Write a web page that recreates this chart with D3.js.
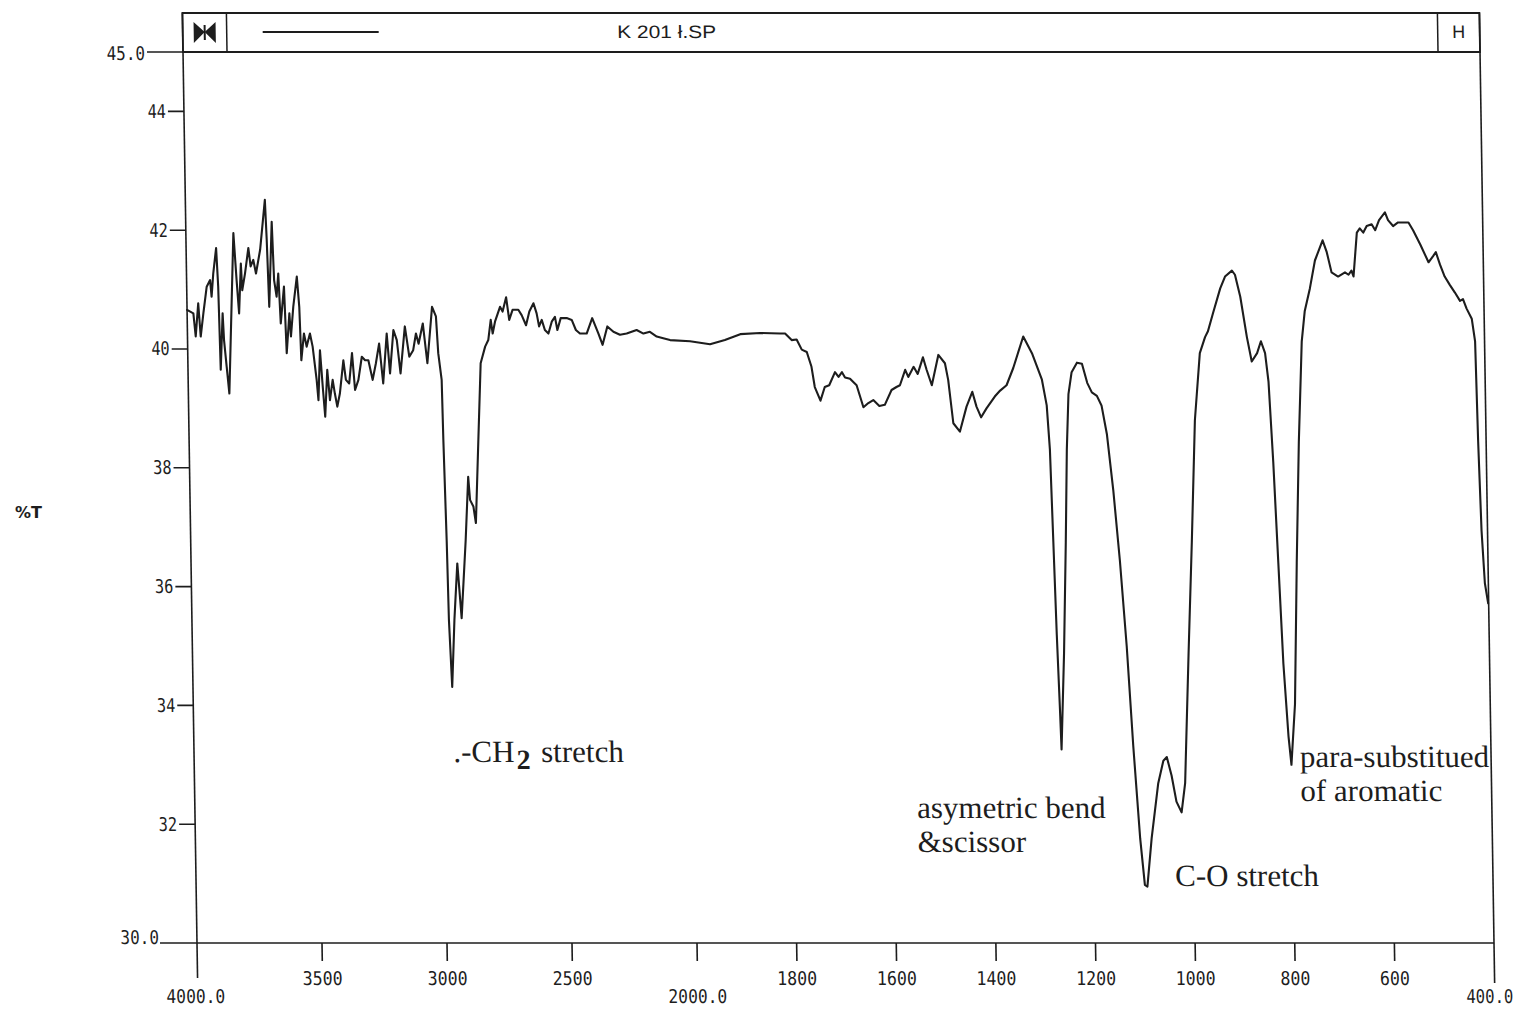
<!DOCTYPE html>
<html>
<head>
<meta charset="utf-8">
<script src="https://cdn.jsdelivr.net/npm/d3@7"></script>
<style>
  html, body { margin: 0; padding: 0; background: #ffffff; }
  svg { display: block; }
</style>
</head>
<body>
<svg id="chart" width="1524" height="1012"></svg>
<script>
// ---------------- data (wavenumber cm-1, %T) ----------------
const wavenumbers = [
  4000,3975,3967,3955,3947,3935,3920,3906,3901,3893,3880,3874,3869,3858,3854,3845,3836,3810,3800,3792,
  3782,3778,3766,3751,3743,3732,3722,3704,3682,3677,3671,3656,3650,3641,3633,3626,3611,3604,3591,3586,
  3575,3559,3551,3546,3534,3524,3510,3500,3486,3480,3471,3462,3454,3443,3434,3422,3414,3405,3394,3378,
  3369,3356,3343,3333,3319,3304,3291,3278,3262,3248,3234,3220,3203,3192,3176,3163,3150,3130,3114,3098,
  3086,3076,3058,3042,3020,3005,2998,2986,2983,2976,2972,2963,2950,2935,2921,2900,2886,2880,2867,2858,
  2843,2829,2810,2797,2786,2779,2769,2748,2738,2723,2712,2698,2675,2662,2645,2631,2614,2602,2593,2582,
  2570,2556,2542,2529,2520,2506,2482,2462,2446,2430,2403,2380,2356,2340,2320,2296,2270,2243,2203,2176,
  2150,2123,2097,2070,1995,1955,1925,1894,1854,1814,1804,1791,1781,1771,1761,1752,1746,1735,1726,1717,
  1705,1698,1691,1685,1675,1662,1649,1639,1629,1617,1606,1592,1582,1575,1564,1558,1547,1539,1528,1521,
  1511,1497,1484,1478,1469,1456,1442,1430,1422,1413,1402,1385,1374,1361,1347,1326,1309,1290,1281,1276,
  1272,1268,1264,1262,1254,1247,1242,1237,1230,1219,1209,1199,1190,1180,1171,1161,1150,1139,1128,1118,
  1107,1099,1094,1084,1069,1058,1051,1042,1033,1023,1015,1004,994,984,972,961,955,944,929,919,
  905,899,889,877,868,857,849,841,835,828,821,814,806,801,792,784,776,767,760,749,
  738,722,714,705,692,678,671,665,661,653,647,640,633,623,616,608,596,590,580,570,
  559,549,540,526,510,501,495,487,478,468,458,448,442,435,425,419,416,412,407,401
];
const transmittance = [
  40.66,40.60,40.21,40.77,40.21,40.60,41.05,41.16,40.88,41.27,41.70,41.05,39.65,40.60,40.15,39.70,39.25,41.95,41.16,40.60,
  41.44,40.99,41.27,41.70,41.39,41.50,41.27,41.67,42.51,41.84,40.71,42.14,41.16,40.88,41.27,40.43,41.05,39.93,40.60,40.21,
  40.71,41.22,40.71,39.81,40.26,40.04,40.26,40.04,39.48,39.14,39.98,39.36,38.86,39.65,39.14,39.48,39.25,39.03,39.25,39.81,
  39.48,39.42,39.93,39.31,39.48,39.87,39.81,39.81,39.48,39.76,40.09,39.42,40.26,39.59,40.32,40.15,39.59,40.38,39.87,39.98,
  40.26,40.09,40.43,39.76,40.71,40.55,39.93,39.48,38.47,36.78,35.44,34.31,35.44,36.39,35.47,36.78,37.85,37.46,37.35,37.07,
  38.47,39.76,40.04,40.15,40.49,40.26,40.46,40.71,40.63,40.87,40.49,40.66,40.66,40.57,40.40,40.63,40.77,40.60,40.38,40.49,
  40.32,40.26,40.46,40.54,40.32,40.52,40.52,40.49,40.32,40.26,40.26,40.52,40.26,40.07,40.38,40.29,40.24,40.26,40.32,40.26,
  40.29,40.21,40.18,40.15,40.13,40.08,40.15,40.25,40.27,40.26,40.26,40.15,40.16,39.99,39.95,39.70,39.36,39.13,39.36,39.39,
  39.61,39.53,39.61,39.52,39.50,39.39,39.02,39.09,39.14,39.04,39.06,39.31,39.36,39.39,39.65,39.53,39.70,39.58,39.86,39.65,
  39.39,39.90,39.76,39.48,38.75,38.61,39.03,39.28,39.03,38.85,39.00,39.20,39.30,39.39,39.68,40.21,39.93,39.49,39.05,38.31,
  36.75,35.19,33.94,33.26,34.88,36.75,38.31,39.24,39.61,39.77,39.75,39.43,39.27,39.21,39.05,38.56,37.62,36.44,35.00,33.32,
  31.76,30.98,30.95,31.76,32.69,33.07,33.13,32.82,32.38,32.20,32.69,34.88,36.75,38.80,39.93,40.20,40.30,40.61,41.02,41.22,
  41.32,41.25,40.88,40.20,39.79,39.93,40.13,39.93,39.45,38.10,36.40,34.70,33.48,33.00,34.02,36.40,38.44,40.13,40.64,41.02,
  41.49,41.83,41.63,41.29,41.22,41.29,41.25,41.32,41.22,41.96,42.03,41.96,42.07,42.10,42.00,42.17,42.30,42.17,42.07,42.13,
  42.13,42.13,42.00,41.76,41.46,41.56,41.63,41.42,41.22,41.08,40.95,40.81,40.84,40.68,40.51,40.13,38.44,36.94,36.06,35.72
];

const yTicks = [44, 42, 40, 38, 36, 34, 32];
const yEndTicks = [45, 30];
const yEndLabels = ["45.0", "30.0"];
const xTicks = [3500, 3000, 2500, 1800, 1600, 1400, 1200, 1000, 800, 600];
const xEndTicks = [4000, 2000, 400];
const xEndLabels = ["4000.0", "2000.0", "400.0"];

const titleText = "K 201 ł.SP";
const yAxisTitle = "%T";

const annotations = [
  { wn: 2963, t: 33.05, lines: [["-CH", "2", " stretch"]] },
  { wn: 1554, t: 32.10, lines: [["asymetric bend"], ["&scissor"]] },
  { wn: 1038, t: 30.96, lines: [["C-O stretch"]] },
  { wn: 784, t: 32.96, lines: [["para-substitued"], ["of aromatic"]] }
];

// ---------------- layout ----------------
const svg = d3.select("#chart");
const ink = "#1d1d1d";
const pL = 197, pR = 1494, pT = 52, pB = 943, headTop = 13;
const skew = 0.0157;

const x = d3.scaleLinear().domain([4000, 2000, 400]).range([pL, 697, pR]);
const y = d3.scaleLinear().domain([30, 45]).range([pB, pT]);

// the scanned sheet is slightly sheared: apply the same shear to the whole plot
const g = svg.append("g")
  .attr("transform", `matrix(1,0,${skew},1,${-skew * pB},0)`);

const monoFont = "'DejaVu Sans Mono', 'Liberation Mono', monospace";

// header box
g.append("rect").attr("x", pL).attr("y", headTop).attr("width", pR - pL).attr("height", pT - headTop)
  .attr("fill", "none").attr("stroke", ink).attr("stroke-width", 1.8);
g.append("line").attr("x1", 241).attr("x2", 241).attr("y1", headTop).attr("y2", pT)
  .attr("stroke", ink).attr("stroke-width", 1.5);
g.append("line").attr("x1", 1452).attr("x2", 1452).attr("y1", headTop).attr("y2", pT)
  .attr("stroke", ink).attr("stroke-width", 1.5);
// bow-tie glyph
g.append("path")
  .attr("d", "M208,22 L219,32 L208,43 Z M230,22 L219,32 L230,43 Z")
  .attr("fill", ink);
g.append("line").attr("x1", 219).attr("x2", 219).attr("y1", 25).attr("y2", 40)
  .attr("stroke", ink).attr("stroke-width", 2);
// legend-like line segment
g.append("line").attr("x1", 277).attr("x2", 393).attr("y1", 32).attr("y2", 32)
  .attr("stroke", ink).attr("stroke-width", 2);
g.append("text").attr("x", 681).attr("y", 33)
  .attr("text-anchor", "middle").attr("dominant-baseline", "middle")
  .attr("font-family", "'Liberation Sans', Arial, sans-serif").attr("font-size", 18)
  .attr("textLength", 99).attr("lengthAdjust", "spacingAndGlyphs")
  .attr("fill", ink).text(titleText);
g.append("text").attr("x", 1473).attr("y", 33)
  .attr("text-anchor", "middle").attr("dominant-baseline", "middle")
  .attr("font-family", "'Liberation Sans', Arial, sans-serif").attr("font-size", 18)
  .attr("fill", ink).text("H");

// frame
g.append("line").attr("x1", pL).attr("x2", pL).attr("y1", headTop).attr("y2", 978)
  .attr("stroke", ink).attr("stroke-width", 1.6);
g.append("line").attr("x1", pR).attr("x2", pR).attr("y1", headTop).attr("y2", 983)
  .attr("stroke", ink).attr("stroke-width", 1.6);
g.append("line").attr("x1", 160).attr("x2", pR).attr("y1", pB).attr("y2", pB)
  .attr("stroke", ink).attr("stroke-width", 1.6);
g.append("line").attr("x1", 161).attr("x2", pL).attr("y1", pT).attr("y2", pT)
  .attr("stroke", ink).attr("stroke-width", 1.6);

// y ticks
yTicks.forEach(v => {
  g.append("line").attr("x1", pL - 16).attr("x2", pL).attr("y1", y(v)).attr("y2", y(v))
    .attr("stroke", ink).attr("stroke-width", 1.6);
  const s = String(v);
  g.append("text").attr("x", pL - 18).attr("y", y(v) + 1)
    .attr("text-anchor", "end").attr("dominant-baseline", "middle")
    .attr("font-family", monoFont).attr("font-size", 19)
    .attr("textLength", s.length * 9.2).attr("lengthAdjust", "spacingAndGlyphs")
    .attr("fill", ink).text(s);
});
yEndTicks.forEach((v, i) => {
  const s = yEndLabels[i];
  g.append("text").attr("x", 159).attr("y", y(v) + (i === 0 ? 3 : -4))
    .attr("text-anchor", "end").attr("dominant-baseline", "middle")
    .attr("font-family", monoFont).attr("font-size", 19)
    .attr("textLength", s.length * 9.6).attr("lengthAdjust", "spacingAndGlyphs")
    .attr("fill", ink).text(s);
});

// x ticks
xTicks.forEach(v => {
  g.append("line").attr("x1", x(v)).attr("x2", x(v)).attr("y1", pB).attr("y2", pB + 18)
    .attr("stroke", ink).attr("stroke-width", 1.6);
  const s = String(v);
  g.append("text").attr("x", x(v)).attr("y", 980)
    .attr("text-anchor", "middle").attr("dominant-baseline", "middle")
    .attr("font-family", monoFont).attr("font-size", 19)
    .attr("textLength", s.length * 10).attr("lengthAdjust", "spacingAndGlyphs")
    .attr("fill", ink).text(s);
});
xEndTicks.forEach((v, i) => {
  if (v === 2000) {
    g.append("line").attr("x1", x(v)).attr("x2", x(v)).attr("y1", pB).attr("y2", pB + 18)
      .attr("stroke", ink).attr("stroke-width", 1.6);
  }
  const s = xEndLabels[i];
  const shift = v === 4000 ? -2 : (v === 400 ? -5 : 0);
  g.append("text").attr("x", x(v) + shift).attr("y", 998)
    .attr("text-anchor", "middle").attr("dominant-baseline", "middle")
    .attr("font-family", monoFont).attr("font-size", 19)
    .attr("textLength", s.length * (v === 400 ? 9.4 : 9.8)).attr("lengthAdjust", "spacingAndGlyphs")
    .attr("fill", ink).text(s);
});

// spectrum
const pts = wavenumbers.map((w, i) => [w, transmittance[i]]);
const line = d3.line().x(d => x(d[0])).y(d => y(d[1])).curve(d3.curveLinear);
g.append("path").datum(pts)
  .attr("d", line)
  .attr("fill", "none").attr("stroke", ink).attr("stroke-width", 2.1)
  .attr("stroke-linejoin", "round").attr("stroke-linecap", "round");

// annotations
const serif = "'Liberation Serif', 'Times New Roman', serif";
annotations.forEach(a => {
  a.lines.forEach((parts, li) => {
    const t = g.append("text")
      .attr("x", x(a.wn)).attr("y", y(a.t) + li * 34)
      .attr("font-family", serif).attr("font-size", 31).attr("fill", ink);
    if (parts.length === 3) {
      t.append("tspan").text("." + parts[0]);
      t.append("tspan").attr("dx", 2).attr("dy", 7).attr("font-size", 28).attr("font-weight", "bold").text(parts[1]);
      t.append("tspan").attr("dx", 3).attr("dy", -7).text(parts[2]);
    } else {
      t.text(parts[0]);
    }
  });
});

// y axis title (outside the sheared group)
svg.append("text").attr("x", 15).attr("y", 513)
  .attr("dominant-baseline", "middle")
  .attr("font-family", "'DejaVu Sans', sans-serif").attr("font-size", 16).attr("font-weight", "bold")
  .attr("fill", ink).text(yAxisTitle);
</script>
</body>
</html>
